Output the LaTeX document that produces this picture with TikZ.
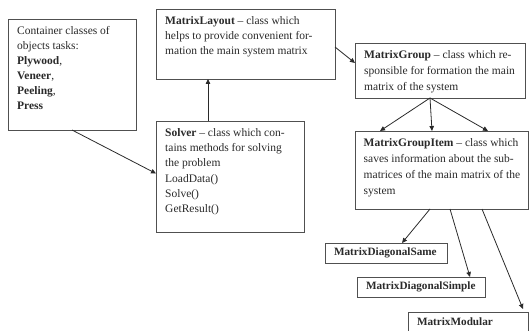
\documentclass[tikz,border=0pt]{standalone}
\usepackage{fontspec}
\setmainfont{Liberation Serif}
\usetikzlibrary{arrows.meta}
\definecolor{edge}{HTML}{505050}
\definecolor{ink}{HTML}{2A2A2A}
\tikzset{
  box/.style={draw=edge, line width=0.9pt, fill=white, inner sep=0pt, outer sep=0pt},
  txt/.style={anchor=north west, inner sep=0pt, align=left, text=ink,
    font=\fontsize{11.5}{15}\selectfont},
  small/.style={box, text=ink, align=left, inner xsep=9pt,
    font=\bfseries\fontsize{11.2}{13}\selectfont},
  conn/.style={draw=ink, line width=0.8pt, -{Triangle[length=5pt,width=4.5pt]}}
}
\begin{document}
\begin{tikzpicture}[x=1pt,y=-1pt]
\useasboundingbox (0,0) rectangle (530,331);
% boxes
\node[box, minimum width=128pt, minimum height=111pt] (cont) at (72,74.5) {};
\node[txt] (conttext) at ([xshift=9pt,yshift=-7pt]cont.north west)
  {Container classes of\\objects tasks:\\\textbf{Plywood},\\\textbf{Veneer},\\\textbf{Peeling},\\\textbf{Press}};
\node[box, minimum width=179pt, minimum height=70pt] (layout) at (245.5,44) {};
\node[txt, font=\fontsize{11.5}{15}\selectfont] (layouttext) at ([xshift=9pt,yshift=-7pt]layout.north west)
  {\textbf{MatrixLayout} -- class which\\helps to provide convenient for-\\mation the main system matrix};
\node[box, minimum width=148pt, minimum height=111pt] (solver) at (230,176.5) {};
\node[txt, font=\fontsize{11.5}{15.3}\selectfont] (solvertext) at ([xshift=9pt,yshift=-7pt]solver.north west)
  {\textbf{Solver} -- class which con-\\tains methods for solving\\the problem\\LoadData()\\Solve()\\GetResult()};
\node[box, minimum width=170pt, minimum height=55pt] (group) at (440,70.5) {};
\node[txt, font=\fontsize{11.5}{16}\selectfont] (grouptext) at ([xshift=9pt,yshift=-7pt]group.north west)
  {\textbf{MatrixGroup} -- class which re-\\sponsible for formation the main\\matrix of the system};
\node[box, minimum width=173pt, minimum height=78pt] (item) at (442,170) {};
\node[txt, font=\fontsize{11.5}{16}\selectfont] (itemtext) at ([xshift=8pt,yshift=-7pt]item.north west)
  {\textbf{MatrixGroupItem} -- class which\\saves information about the sub-\\matrices of the main matrix of the\\system};
\node[small, text width=104pt, minimum height=20pt] (same) at (386,253) {MatrixDiagonalSame};
\node[small, text width=110pt, minimum height=20pt] (simple) at (421,287) {MatrixDiagonalSimple};
\node[small, text width=102pt, minimum height=20pt] (modular) at (468,322) {MatrixModular};
% connectors
\draw[conn] (cont.south) -- ([yshift=3pt]solver.west);
\draw[conn] ([xshift=-22pt]solver.north) -- ([xshift=-22pt]solver.north |- layout.south);
\draw[conn] ([yshift=-3pt]layout.east) -- ([yshift=7.5pt]group.west);
\draw[conn] ([xshift=-10pt]group.south) -- ([xshift=-62pt]item.north);
\draw[conn] ([xshift=-10pt]group.south) -- ([xshift=-10pt]item.north);
\draw[conn] ([xshift=-10pt]group.south) -- ([xshift=46pt]item.north);
\draw[conn] ([xshift=-12pt]item.south) -- ([xshift=16pt]same.north);
\draw[conn] ([xshift=8pt]item.south) -- ([xshift=49pt]simple.north);
\draw[conn] ([xshift=40pt]item.south) -- ([xshift=55pt,yshift=3pt]modular.north);
\end{tikzpicture}
\end{document}
